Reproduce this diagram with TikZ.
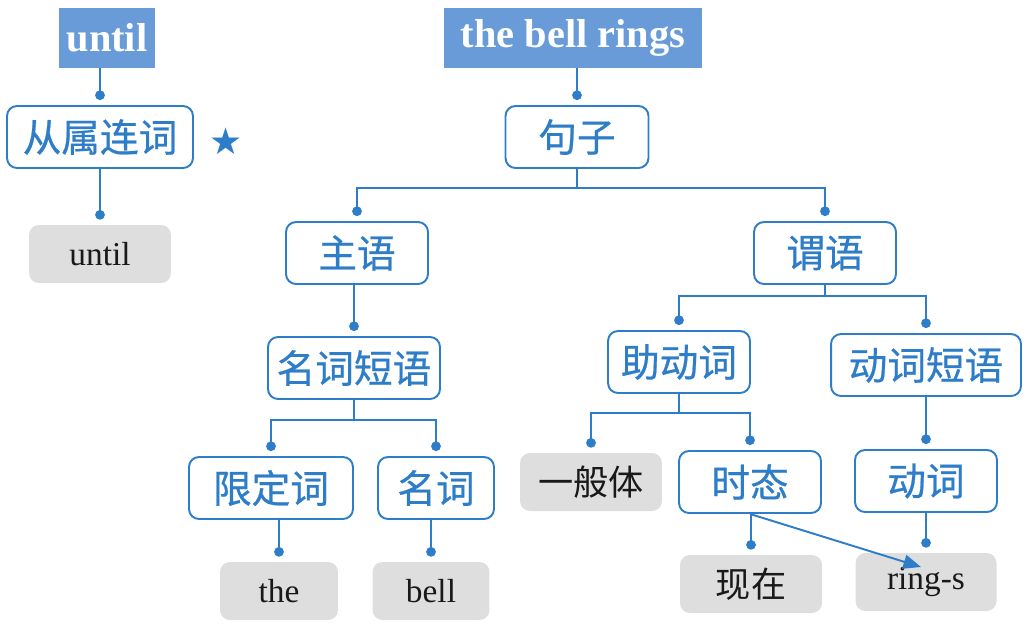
\documentclass[tikz,border=0pt]{standalone}
\usepackage{fontspec}
\setmainfont{Liberation Serif}
\newfontfamily\cjk[FakeBold=0.6]{Noto Sans CJK SC}
\newfontfamily\cjkplain{Noto Sans CJK SC}
\newfontfamily\symfont{DejaVu Sans}
\usetikzlibrary{arrows.meta}
\definecolor{treeblue}{RGB}{46,125,200}
\definecolor{headblue}{RGB}{104,155,216}
\definecolor{wordgray}{RGB}{222,222,222}
\tikzset{
  head/.style={fill=headblue, text=white, font=\fontsize{23}{27}\selectfont\bfseries, minimum height=1.2cm, inner sep=0pt},
  cat/.style={draw=treeblue, line width=1.1pt, rounded corners=0.2cm, text=treeblue, font=\cjk\fontsize{22}{26}\selectfont, minimum width=2.84cm, minimum height=1.24cm, inner sep=0pt},
  word/.style={fill=wordgray, rounded corners=0.2cm, text=black!90, font=\fontsize{19}{23}\selectfont, minimum width=2.84cm, minimum height=1.16cm, inner sep=0pt},
  cjkword/.style={word, font=\cjkplain\fontsize{20}{24}\selectfont},
  link/.style={draw=treeblue, line width=1pt, -{Circle[length=5.5pt]}},
}
\begin{document}
\begin{tikzpicture}[x=0.02cm, y=-0.02cm]
    \useasboundingbox (0,0) rectangle (1026,630);
    \node[head, minimum width=1.94cm] (u) at (107,38) {until};
    \node[cat, minimum width=3.72cm] (clc) at (100,137) {从属连词};
    \node[text=treeblue, font=\symfont\fontsize{21}{24}\selectfont] (star) at (226,141) {★};
    \node[word] (uw) at (100,254) {until};
    \node[head, minimum width=5.16cm] (bell rings) at (573,38) {the bell rings};
    \node[cat, minimum width=2.86cm] (jz) at (577,137) {句子};
    \node[cat] (zy) at (357,253) {主语};
    \node[cat, minimum width=3.44cm] (mcdy) at (354,368) {名词短语};
    \node[cat, minimum width=3.28cm] (xdc) at (271,488) {限定词};
    \node[cat, minimum width=2.32cm] (mc) at (436,488) {名词};
    \node[word, minimum width=2.36cm] (the) at (279,591) {the};
    \node[word, minimum width=2.34cm] (bell) at (431,591) {bell};
    \node[cat] (wy) at (825,253) {谓语};
    \node[cat] (zdc) at (679,362) {助动词};
    \node[cat, minimum width=3.8cm] (dcdy) at (926,365) {动词短语};
    \node[cjkword] (ybt) at (591,482) {一般体};
    \node[cat] (sj) at (750,482) {时态};
    \node[cat] (dc) at (926,481) {动词};
    \node[cjkword] (xz) at (751,584) {现在};
    \node[word, minimum width=2.82cm] (rs) at (926,582) {ring-s};
    \draw[link] (u.south -| clc.north) -- ([yshift=1mm]clc.north);
    \draw[link] (clc.south) -- ([yshift=1mm]uw.north);
    \draw[link] (bell rings.south -| jz.north) -- ([yshift=1mm]jz.north);
    \draw[link] (jz.south) -- ++(0,19) -| ([yshift=1mm]zy.north);
    \draw[link] (jz.south) -- ++(0,19) -| ([yshift=1mm]wy.north);
    \draw[link] (zy.south -| mcdy.north) -- ([yshift=1mm]mcdy.north);
    \draw[link] (mcdy.south) -- ++(0,20) -| ([yshift=1mm]xdc.north);
    \draw[link] (mcdy.south) -- ++(0,20) -| ([yshift=1mm]mc.north);
    \draw[link] (xdc.south -| the.north) -- ([yshift=1mm]the.north);
    \draw[link] (mc.south -| bell.north) -- ([yshift=1mm]bell.north);
    \draw[link] (wy.south) -- ++(0,11) -| ([yshift=1mm]zdc.north);
    \draw[link] (wy.south) -- ++(0,11) -| ([yshift=1mm]dcdy.north);
    \draw[link] (zdc.south) -- ++(0,19) -| ([yshift=1mm]ybt.north);
    \draw[link] (zdc.south) -- ++(0,19) -| ([yshift=1mm]sj.north);
    \draw[link] (dcdy.south -| dc.north) -- ([yshift=1mm]dc.north);
    \draw[link] (sj.south -| xz.north) -- ([yshift=1mm]xz.north);
    \draw[link] (dc.south -| rs.north) -- ([yshift=1mm]rs.north);
    \draw[treeblue, line width=1.1pt, -{Triangle[length=10pt,width=8pt]}] (sj.south) -- ([xshift=-0.1cm,yshift=0.3cm]rs.center);
\end{tikzpicture}
\end{document}
